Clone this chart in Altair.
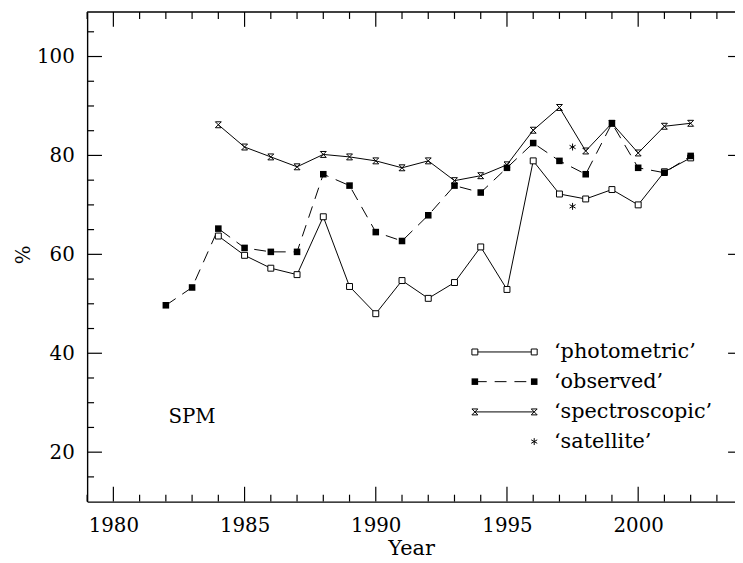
import altair as alt
import pandas as pd

# ---- data ----
obs_years = list(range(1982, 2003))
observed = [49.7, 53.3, 65.2, 61.3, 60.5, 60.5, 76.2, 73.9, 64.5, 62.7, 67.9,
            73.9, 72.5, 77.5, 82.5, 78.9, 76.2, 86.5, 77.5, 76.5, 79.9]
ph_years = list(range(1984, 2003))
photometric = [63.7, 59.8, 57.2, 55.9, 67.6, 53.5, 48.0, 54.7, 51.1, 54.3,
               61.5, 52.9, 78.9, 72.2, 71.2, 73.1, 70.0, 76.7, 79.5]
sp_years = list(range(1984, 2003))
spectroscopic = [86.2, 81.7, 79.7, 77.7, 80.2, 79.7, 78.9, 77.5, 78.9, 74.9,
                 75.9, 78.1, 85.1, 89.7, 80.9, 86.5, 80.5, 85.9, 86.5]
sat_years = [1997.5, 1997.5]
satellite = [81.7, 69.7]

legend_labels = ["\u2018photometric\u2019", "\u2018observed\u2019",
                 "\u2018spectroscopic\u2019", "\u2018satellite\u2019"]
x_major = [1980, 1985, 1990, 1995, 2000]
x_minor = [y for y in range(1979, 2004) if y % 5 != 0]
y_major = [20, 40, 60, 80, 100]
y_minor = [v for v in range(15, 110, 5) if v % 20 != 0]
annotation = "SPM"

# ---- layout ----
W, H = 655, 495
FONT = "DejaVu Serif"
xs = alt.Scale(domain=[1979, 2003.69], nice=False, zero=False)
ys = alt.Scale(domain=[10, 109], nice=False, zero=False)

xaxis = alt.Axis(values=x_major, format="d", ticks=False, tickSize=0, grid=False,
                 domain=True, domainColor="black", domainWidth=1.4,
                 labelFont=FONT, labelFontSize=20, labelColor="black",
                 labelPadding=14, labelFlush=False, labelOverlap=False,
                 title="Year", titleFont=FONT, titleFontSize=21,
                 titleFontWeight="normal", titleColor="black",
                 titleBaseline="alphabetic", titleY=53)
yaxis = alt.Axis(values=y_major, format="d", ticks=False, tickSize=0, grid=False,
                 domain=True, domainColor="black", domainWidth=1.4,
                 labelFont=FONT, labelFontSize=20, labelColor="black",
                 labelPadding=13, labelOverlap=False,
                 title="%", titleFont=FONT, titleFontSize=20,
                 titleFontWeight="normal", titleColor="black",
                 titleAngle=270, titleX=-64, titleY=245,
                 titleAlign="center", titleBaseline="middle")

X = alt.X("year:Q", scale=xs, axis=xaxis)
Y = alt.Y("value:Q", scale=ys, axis=yaxis)

df_obs = pd.DataFrame({"year": obs_years, "value": observed})
df_ph = pd.DataFrame({"year": ph_years, "value": photometric})
df_sp = pd.DataFrame({"year": sp_years, "value": spectroscopic})
df_sat = pd.DataFrame({"year": sat_years, "value": satellite})

HOURGLASS = "M-1,-1L1,1M1,-1L-1,1M-1,-1L1,-1M-1,1L1,1"
ASTERISK = "M0,-1L0,1M-0.87,-0.5L0.87,0.5M-0.87,0.5L0.87,-0.5"
DASH = [12, 8]

layers = []
# data lines
layers.append(alt.Chart(df_ph).mark_line(color="black", strokeWidth=1).encode(x=X, y=Y))
layers.append(alt.Chart(df_obs).mark_line(color="black", strokeWidth=1, strokeDash=DASH).encode(x=X, y=Y))
layers.append(alt.Chart(df_sp).mark_line(color="black", strokeWidth=1).encode(x=X, y=Y))
# markers
layers.append(alt.Chart(df_ph).mark_point(shape="square", size=36, filled=True, fill="white",
                                          stroke="black", strokeWidth=1, opacity=1).encode(x=X, y=Y))
layers.append(alt.Chart(df_obs).mark_point(shape="square", size=44, filled=True, color="black",
                                           opacity=1).encode(x=X, y=Y))
layers.append(alt.Chart(df_sp).mark_point(shape=HOURGLASS, size=36, filled=False, stroke="black",
                                          strokeWidth=1, opacity=1).encode(x=X, y=Y))
layers.append(alt.Chart(df_sat).mark_point(shape=ASTERISK, size=49, filled=False, stroke="black",
                                           strokeWidth=1, opacity=1).encode(x=X, y=Y))

# frame top line
layers.append(alt.Chart(pd.DataFrame({"k": [0]})).mark_rule(color="black", strokeWidth=1.4).encode(
    x=alt.value(0), x2=alt.value(W), y=alt.value(0)))

# ticks (inward)
dfxM = pd.DataFrame({"year": x_major})
dfxm = pd.DataFrame({"year": x_minor})
dfyM = pd.DataFrame({"value": y_major})
dfym = pd.DataFrame({"value": y_minor})
tk = dict(color="black", strokeWidth=1.2)
layers.append(alt.Chart(dfxM).mark_rule(**tk).encode(x=X, y=alt.value(H), y2=alt.value(H - 15)))
layers.append(alt.Chart(dfxm).mark_rule(**tk).encode(x=X, y=alt.value(H), y2=alt.value(H - 7)))
layers.append(alt.Chart(dfxM).mark_rule(**tk).encode(x=X, y=alt.value(0), y2=alt.value(15)))
layers.append(alt.Chart(dfxm).mark_rule(**tk).encode(x=X, y=alt.value(0), y2=alt.value(7)))
layers.append(alt.Chart(dfyM).mark_rule(**tk).encode(y=Y, x=alt.value(0), x2=alt.value(15)))
layers.append(alt.Chart(dfym).mark_rule(**tk).encode(y=Y, x=alt.value(0), x2=alt.value(7)))
layers.append(alt.Chart(dfyM).mark_rule(**tk).encode(y=Y, x=alt.value(W - 7), x2=alt.value(W)))

# annotation
layers.append(alt.Chart(pd.DataFrame({"t": [annotation]})).mark_text(
    font=FONT, fontSize=20, align="left", baseline="middle", color="black").encode(
    x=alt.datum(1982.1), y=alt.datum(27.0), text="t:N"))

# manual legend
row_y = [343.7, 373.7, 404.3, 434.3]
lx0, lx1, tx = 392, 452, 472
marker_specs = [
    dict(shape="square", size=36, filled=True, fill="white", stroke="black", strokeWidth=1),
    dict(shape="square", size=44, filled=True, color="black"),
    dict(shape=HOURGLASS, size=36, filled=False, stroke="black", strokeWidth=1),
    dict(shape=ASTERISK, size=49, filled=False, stroke="black", strokeWidth=1),
]
for i, lab in enumerate(legend_labels):
    one = pd.DataFrame({"label": [lab]})
    yv = alt.value(row_y[i])
    if i < 3:
        lk = dict(color="black", strokeWidth=1)
        if i == 1:
            lk["strokeDash"] = DASH
        layers.append(alt.Chart(one).mark_rule(**lk).encode(x=alt.value(lx0), x2=alt.value(lx1), y=yv))
        layers.append(alt.Chart(one).mark_point(opacity=1, **marker_specs[i]).encode(x=alt.value(lx0), y=yv))
    layers.append(alt.Chart(one).mark_point(opacity=1, **marker_specs[i]).encode(x=alt.value(lx1), y=yv))
    layers.append(alt.Chart(one).mark_text(font=FONT, fontSize=21, align="left", baseline="middle",
                                           color="black").encode(x=alt.value(tx), y=yv, text="label:N"))

chart = alt.layer(*layers).properties(
    width=W, height=H,
    padding={"left": 80, "top": 1, "right": 0, "bottom": 59},
    autosize=alt.AutoSizeParams(type="none"),
    background="white",
).configure_view(stroke=None)

chart.save("out.html", embed_options={"renderer": "svg", "actions": False})
